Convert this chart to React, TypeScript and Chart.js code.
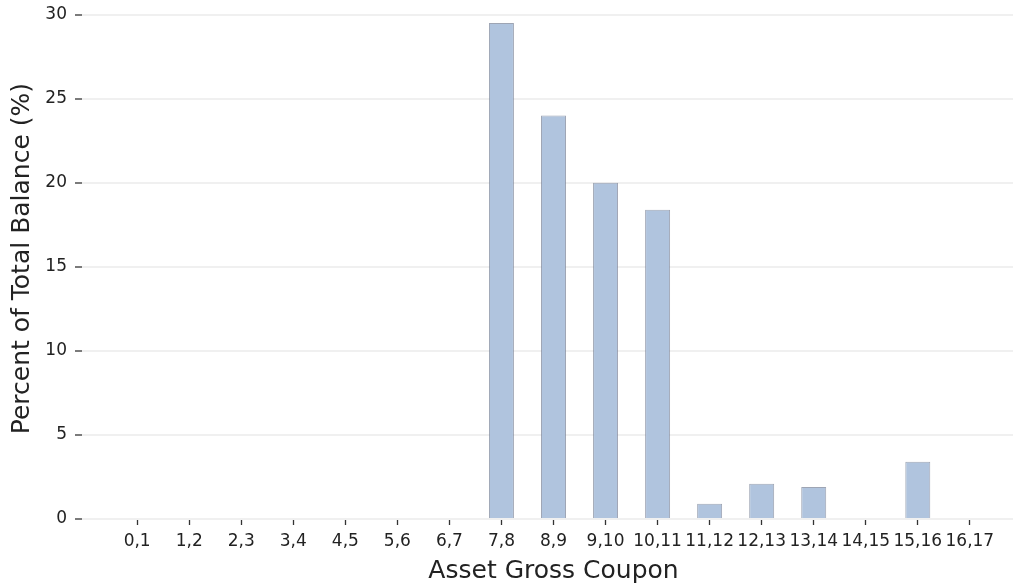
import React, { useEffect, useRef } from 'react';
import { Chart, registerables } from 'chart.js';

Chart.register(...registerables);

const categories = ['0,1', '1,2', '2,3', '3,4', '4,5', '5,6', '6,7', '7,8', '8,9', '9,10', '10,11', '11,12', '12,13', '13,14', '14,15', '15,16', '16,17'];
const balancePct = [0, 0, 0, 0, 0, 0, 0, 29.5, 24.0, 20.0, 18.4, 0.9, 2.1, 1.9, 0, 3.4, 0];
const yTickValues = [0, 5, 10, 15, 20, 25, 30];

const FONT = "'DejaVu Sans', sans-serif";

export default function App() {
  const ref = useRef<HTMLCanvasElement | null>(null);

  useEffect(() => {
    if (!ref.current) return;
    const chart = new Chart(ref.current, {
      type: 'bar',
      data: {
        datasets: [
          {
            label: 'Percent of Total Balance',
            data: balancePct.map((v, i) => ({ x: i, y: v })),
            backgroundColor: '#b0c4de',
            borderColor: 'rgba(125,135,155,0.75)',
            borderWidth: 1,
            borderSkipped: 'start',
            barPercentage: 0.48,
            categoryPercentage: 1,
          },
        ],
      },
      options: {
        animation: false,
        responsive: true,
        maintainAspectRatio: false,
        layout: { padding: { top: 17.6, left: 0, right: 1, bottom: 0 } },
        plugins: {
          legend: { display: false },
          tooltip: { enabled: false },
        },
        scales: {
          x: {
            type: 'linear',
            min: -1.06,
            max: 17.06,
            offset: false,
            afterBuildTicks: (scale: any) => {
              scale.ticks = categories.map((_, i) => ({ value: i }));
            },
            afterFit: (scale: any) => {
              scale.height = 67;
            },
            ticks: {
              autoSkip: false,
              maxRotation: 0,
              minRotation: 0,
              padding: 6,
              color: '#222',
              font: { family: FONT, size: 17 },
              callback: (value: any) => categories[Math.round(Number(value))] ?? '',
            },
            grid: {
              offset: false,
              drawOnChartArea: false,
              drawTicks: true,
              tickLength: 6,
              tickColor: '#333',
              tickWidth: 1.3,
            },
            border: { display: false },
            title: {
              display: true,
              text: 'Asset Gross Coupon',
              color: '#222',
              font: { family: FONT, size: 25 },
              padding: { top: 0, bottom: 0 },
            },
          },
          y: {
            min: 0,
            max: 30.975,
            afterBuildTicks: (scale: any) => {
              scale.ticks = yTickValues.map((v) => ({ value: v }));
            },
            afterFit: (scale: any) => {
              scale.width = 82;
            },
            ticks: {
              padding: 8,
              color: '#222',
              font: { family: FONT, size: 17 },
            },
            grid: {
              color: '#f0f0f0',
              lineWidth: 2,
              drawTicks: true,
              tickLength: 7,
              tickColor: '#333',
              tickWidth: 1.3,
            },
            border: { display: false },
            title: {
              display: true,
              text: 'Percent of Total Balance (%)',
              color: '#222',
              font: { family: FONT, size: 25 },
              padding: { top: 7, bottom: 0 },
            },
          },
        },
      },
    });
    return () => chart.destroy();
  }, []);

  return (
    <div style={{ position: 'fixed', left: 0, top: 0, width: 1013, height: 586, overflow: 'hidden', background: '#fff' }}>
      <div style={{ position: 'absolute', left: 0, top: -20, width: 1026, height: 606 }}>
        <canvas ref={ref} />
      </div>
    </div>
  );
}
